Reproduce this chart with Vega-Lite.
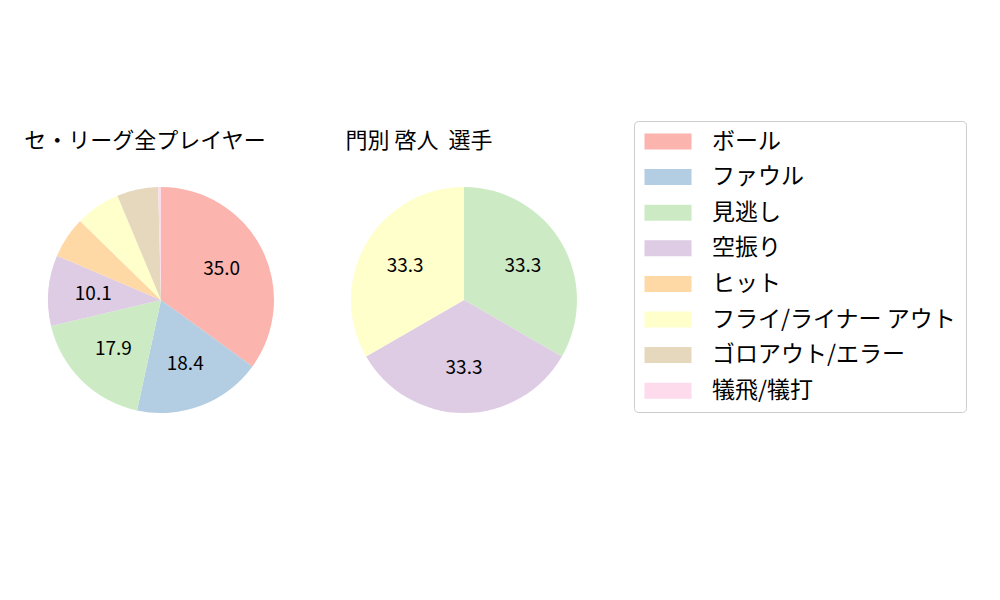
{
  "$schema": "https://vega.github.io/schema/vega-lite/v6.json",
  "background": "white",
  "padding": {"left": 23, "top": 120, "right": 5, "bottom": 5},
  "config": {
    "view": {"stroke": null},
    "font": "Noto Sans CJK JP",
    "title": {"font": "Noto Sans CJK JP", "fontSize": 22, "fontWeight": "normal", "color": "black", "anchor": "middle", "offset": 34}
  },
  "data": {
    "values": [
      {"player": "セ・リーグ全プレイヤー", "type": "ボール", "idx": 0, "value": 35.0},
      {"player": "セ・リーグ全プレイヤー", "type": "ファウル", "idx": 1, "value": 18.4},
      {"player": "セ・リーグ全プレイヤー", "type": "見逃し", "idx": 2, "value": 17.9},
      {"player": "セ・リーグ全プレイヤー", "type": "空振り", "idx": 3, "value": 10.1},
      {"player": "セ・リーグ全プレイヤー", "type": "ヒット", "idx": 4, "value": 5.9},
      {"player": "セ・リーグ全プレイヤー", "type": "フライ/ライナー アウト", "idx": 5, "value": 6.4},
      {"player": "セ・リーグ全プレイヤー", "type": "ゴロアウト/エラー", "idx": 6, "value": 5.9},
      {"player": "セ・リーグ全プレイヤー", "type": "犠飛/犠打", "idx": 7, "value": 0.4},
      {"player": "門別 啓人  選手", "type": "見逃し", "idx": 2, "value": 33.3},
      {"player": "門別 啓人  選手", "type": "空振り", "idx": 3, "value": 33.3},
      {"player": "門別 啓人  選手", "type": "フライ/ライナー アウト", "idx": 5, "value": 33.3}
    ]
  },
  "spacing": 71,
  "resolve": {"scale": {"color": "shared"}},
  "hconcat": [
    {
      "title": {"text": "セ・リーグ全プレイヤー", "dx": -16},
      "transform": [{"filter": "datum.player === 'セ・リーグ全プレイヤー'"}],
      "width": 226,
      "height": 226,
      "encoding": {
        "theta": {"field": "value", "type": "quantitative", "stack": true},
        "order": {"field": "idx", "type": "quantitative"}
      },
      "layer": [
        {
          "mark": {"type": "arc"},
          "encoding": {
            "color": {
              "field": "type",
              "type": "nominal",
              "scale": {
                "domain": ["ボール", "ファウル", "見逃し", "空振り", "ヒット", "フライ/ライナー アウト", "ゴロアウト/エラー", "犠飛/犠打"],
                "range": ["#fbb4ae", "#b3cde3", "#ccebc5", "#decbe4", "#fed9a6", "#ffffcc", "#e5d8bd", "#fddaec"]
              },
              "legend": {
                "title": null,
                "orient": "none",
                "legendX": 586,
                "legendY": -66,
                "labelFont": "Noto Sans CJK JP",
                "labelFontSize": 23,
                "labelColor": "black",
                "labelLimit": 400,
                "labelOffset": 46,
                "symbolType": "M-1.25,-1H4.625V1H-1.25Z",
                "symbolSize": 256,
                "symbolStrokeWidth": 0,
                "symbolOpacity": 1,
                "rowPadding": 11.6,
                "padding": 9,
                "strokeColor": "#cccccc",
                "fillColor": "white",
                "cornerRadius": 4
              }
            }
          }
        },
        {
          "mark": {"type": "text", "radius": 68, "fontSize": 19, "color": "black"},
          "encoding": {
            "text": {"condition": {"test": "datum.value >= 10", "field": "value", "type": "quantitative", "format": ".1f"}, "value": ""}
          }
        }
      ]
    },
    {
      "title": {"text": "門別 啓人 \u00a0選手", "dx": -45},
      "transform": [{"filter": "datum.player === '門別 啓人  選手'"}],
      "width": 226,
      "height": 226,
      "encoding": {
        "theta": {"field": "value", "type": "quantitative", "stack": true},
        "order": {"field": "idx", "type": "quantitative"}
      },
      "layer": [
        {"mark": {"type": "arc"}, "encoding": {"color": {"field": "type", "type": "nominal"}}},
        {
          "mark": {"type": "text", "radius": 68, "fontSize": 19, "color": "black"},
          "encoding": {
            "text": {"condition": {"test": "datum.value >= 10", "field": "value", "type": "quantitative", "format": ".1f"}, "value": ""}
          }
        }
      ]
    }
  ]
}
